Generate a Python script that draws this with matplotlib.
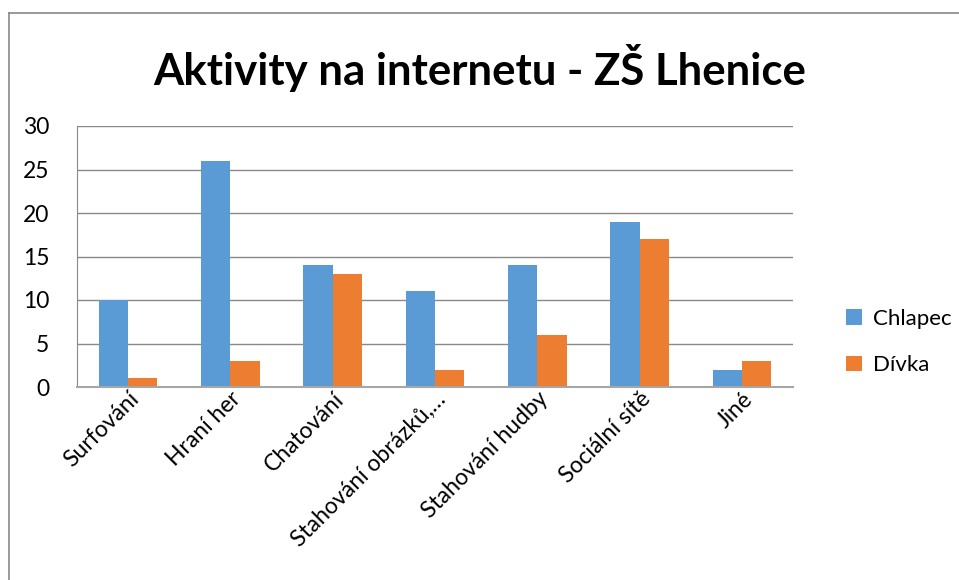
import matplotlib.pyplot as plt
import numpy as np

categories = ['Surfování', 'Hraní her', 'Chatování', 'Stahování obrázků,…',
              'Stahování hudby', 'Sociální sítě', 'Jiné']
chlapec = [10, 26, 14, 11, 14, 19, 2]
divka = [1, 3, 13, 2, 6, 17, 3]

plt.rcParams['font.family'] = ['Lato', 'DejaVu Sans']

fig = plt.figure(figsize=(9.59, 5.80), dpi=100)
ax = fig.add_axes([77/959, 1-387/580, (793-77)/959, (387-126)/580])

x = np.arange(len(categories))
w = 1/3.5
ax.bar(x - w/2, chlapec, w, color='#5B9BD5', label='Chlapec')
ax.bar(x + w/2, divka, w, color='#ED7D31', label='Dívka')

ax.set_xlim(-0.5, len(categories) - 0.5)
ax.set_ylim(0, 30)
ax.set_yticks(range(0, 31, 5))
ax.yaxis.grid(True, color='#898989', linewidth=1)
ax.set_axisbelow(True)
for s in ['top', 'right']:
    ax.spines[s].set_visible(False)
ax.spines['left'].set_color('#898989')
ax.spines['bottom'].set_color('#a6a6a6')
ax.spines['bottom'].set_linewidth(1.5)
ax.tick_params(length=0, labelsize=16.5)
ax.tick_params(axis='y', pad=20)
ax.set_xticks(x)
ax.set_xticklabels(categories, rotation=45, ha='right', rotation_mode='anchor')
ax.tick_params(axis='x', pad=1)

fig.text(0.5, 1-68/580, 'Aktivity na internetu - ZŠ Lhenice', ha='center', va='center',
         fontsize=31.5, fontweight='bold')

ax.legend(loc='center left', bbox_to_anchor=(826/959, 1-342/580), bbox_transform=fig.transFigure,
          frameon=False, fontsize=16, handlelength=0.7, handleheight=0.7, labelspacing=1.2,
          handletextpad=0.5)

# chart frame (only top and left visible)
fig.add_artist(plt.Line2D([9/959, 9/959], [0, 1-13/580], color='#898989', lw=1.2, transform=fig.transFigure))
fig.add_artist(plt.Line2D([9/959, 1], [1-13/580, 1-13/580], color='#898989', lw=1.2, transform=fig.transFigure))

plt.savefig('out.png', dpi=100)
